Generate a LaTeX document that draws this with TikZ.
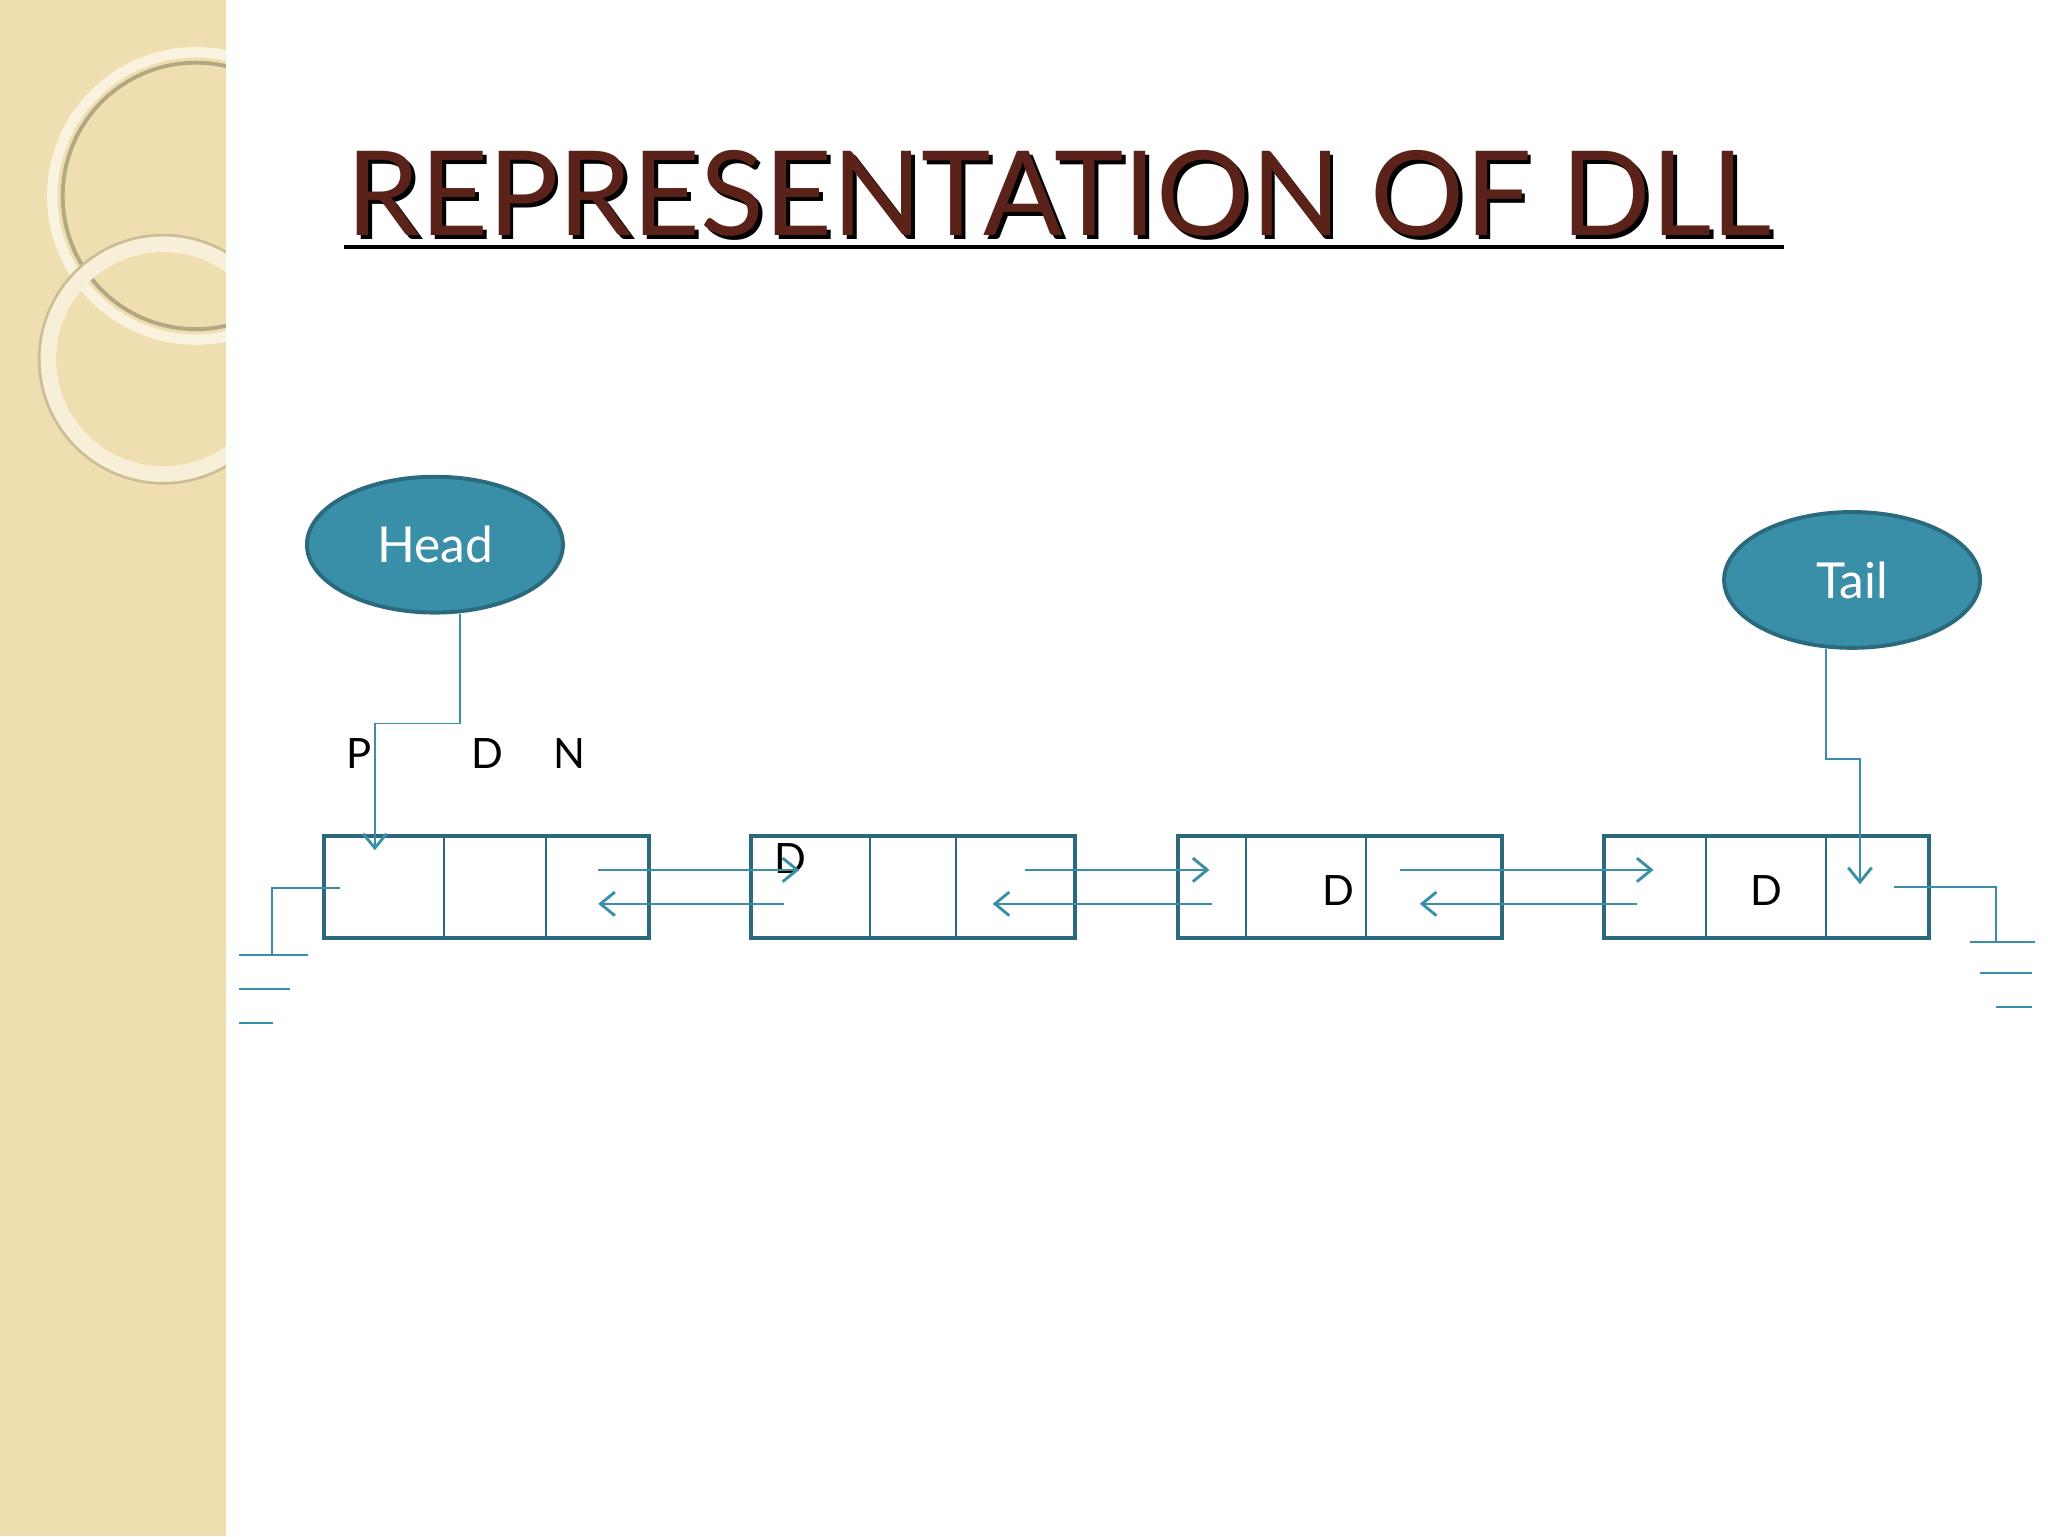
\documentclass[tikz,border=0pt]{standalone}
\usepackage{fontspec}
\setmainfont{Lato}
\usetikzlibrary{shapes.geometric,arrows.meta}
\definecolor{teal1}{HTML}{3A8FA8}
\definecolor{teal2}{HTML}{2B6A7C}
\definecolor{beige}{HTML}{EFDFB0}
\definecolor{brown1}{HTML}{5A2218}
\tikzset{x=1pt,y=-1pt,
 oval/.style={ellipse,draw=teal2,line width=3pt,fill=teal1,minimum width=196pt,minimum height=104pt,text=white,font=\fontsize{38}{40}\selectfont},
 cell/.style={draw=teal2,line width=3.5pt},
 div/.style={draw=teal2,line width=1.2pt},
 link/.style={draw=teal1,line width=1.3pt,-{Straight Barb[length=11pt,width=18pt,line width=2.2pt]}},
 wire/.style={draw=teal1,line width=1.3pt},
 lbl/.style={font=\fontsize{32}{34}\selectfont,text=black,inner sep=0}}
\begin{document}
\begin{tikzpicture}
\useasboundingbox (0,0) rectangle (1568,1176);
\fill[white] (0,0) rectangle (1568,1176);
\fill[beige] (0,0) rectangle (173,1176);
\begin{scope}
\clip (0,0) rectangle (173,1176);
\draw[white!60!beige,line width=8pt] (150,150) circle (110);
\draw[black!25!beige,line width=3pt] (150,150) circle (102);
\draw[white!50!beige,line width=12pt] (125,275) circle (88);
\draw[black!15!beige,line width=2pt] (125,275) circle (95);
\end{scope}
% title
\node[anchor=base west,inner sep=0,text=black,font=\fontsize{90}{92}\selectfont] at (268,183) {REPRESENTATION OF DLL};
\node[anchor=base west,inner sep=0,text=brown1,font=\fontsize{90}{92}\selectfont] (title) at (265,180) {REPRESENTATION OF DLL};
\draw[black,line width=3pt] (263,189) -- (1366,189);
% ovals
\node[oval] (head) at (333,417) {Head};
\node[oval] (tail) at (1418,444) {Tail};
% boxes
\draw[cell] (248,640) rectangle (497,718);
\draw[div] (340,640)--(340,718) (418,640)--(418,718);
\draw[cell] (575,640) rectangle (823,718);
\draw[div] (666,640)--(666,718) (732,640)--(732,718);
\draw[cell] (902,640) rectangle (1150,718);
\draw[div] (954,640)--(954,718) (1046,640)--(1046,718);
\draw[cell] (1228,640) rectangle (1477,718);
\draw[div] (1306,640)--(1306,718) (1398,640)--(1398,718);
% labels
\node[lbl] (p) at (275,577) {P};
\node[lbl] (d0) at (373,577) {D};
\node[lbl] (n) at (436,577) {N};
\node[lbl] (d2) at (605,657) {D};
\node[lbl] (d3) at (1025,682) {D};
\node[lbl] (d4) at (1352,682) {D};
% head/tail pointers
\coordinate (h1) at (352,554); \coordinate (h2) at (287,554); \coordinate (h3) at (287,651);
\draw[link] (352,470) -- (h1) -- (h2) -- (h3);
\coordinate (t1) at (1398,581); \coordinate (t2) at (1424,581); \coordinate (t3) at (1424,677);
\draw[link] (1398,497) -- (t1) -- (t2) -- (t3);
% links
\draw[link] (458,666) -- (612,666);
\draw[link] (600,692) -- (458,692);
\draw[link] (785,666) -- (926,666);
\draw[link] (928,692) -- (760,692);
\draw[link] (1072,666) -- (1266,666);
\draw[link] (1253,692) -- (1087,692);
% nulls
\draw[wire] (260,680) -- (208,680) -- (208,731);
\draw[wire] (183,731)--(236,731) (183,757)--(222,757) (183,783)--(209,783);
\draw[wire] (1450,679) -- (1528,679) -- (1528,721);
\draw[wire] (1508,721)--(1558,721) (1516,745)--(1556,745) (1528,771)--(1556,771);
\end{tikzpicture}
\end{document}
